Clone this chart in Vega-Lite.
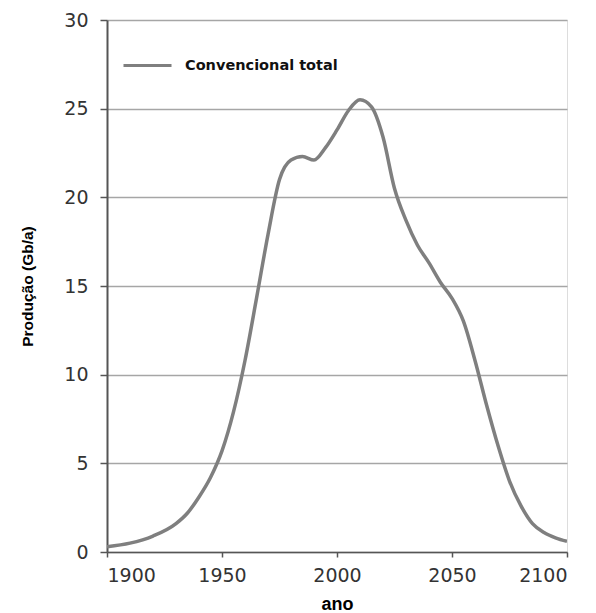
{
  "$schema": "https://vega.github.io/schema/vega-lite/v6.json",
  "autosize": "none",
  "width": 460,
  "height": 532,
  "padding": {"left": 107, "top": 20, "right": 29, "bottom": 61},
  "background": "white",
  "data": {"values": [
    {"ano": 1900, "prod": 0.3, "serie": "Convencional total"},
    {"ano": 1910, "prod": 0.5, "serie": "Convencional total"},
    {"ano": 1920, "prod": 0.9, "serie": "Convencional total"},
    {"ano": 1930, "prod": 1.6, "serie": "Convencional total"},
    {"ano": 1935, "prod": 2.2, "serie": "Convencional total"},
    {"ano": 1940, "prod": 3.1, "serie": "Convencional total"},
    {"ano": 1945, "prod": 4.2, "serie": "Convencional total"},
    {"ano": 1950, "prod": 5.7, "serie": "Convencional total"},
    {"ano": 1955, "prod": 7.9, "serie": "Convencional total"},
    {"ano": 1960, "prod": 10.8, "serie": "Convencional total"},
    {"ano": 1965, "prod": 14.3, "serie": "Convencional total"},
    {"ano": 1970, "prod": 17.9, "serie": "Convencional total"},
    {"ano": 1975, "prod": 21.0, "serie": "Convencional total"},
    {"ano": 1980, "prod": 22.1, "serie": "Convencional total"},
    {"ano": 1985, "prod": 22.3, "serie": "Convencional total"},
    {"ano": 1990, "prod": 22.1, "serie": "Convencional total"},
    {"ano": 1995, "prod": 22.8, "serie": "Convencional total"},
    {"ano": 2000, "prod": 23.8, "serie": "Convencional total"},
    {"ano": 2005, "prod": 24.9, "serie": "Convencional total"},
    {"ano": 2010, "prod": 25.5, "serie": "Convencional total"},
    {"ano": 2015, "prod": 25.1, "serie": "Convencional total"},
    {"ano": 2020, "prod": 23.4, "serie": "Convencional total"},
    {"ano": 2025, "prod": 20.5, "serie": "Convencional total"},
    {"ano": 2030, "prod": 18.7, "serie": "Convencional total"},
    {"ano": 2035, "prod": 17.3, "serie": "Convencional total"},
    {"ano": 2040, "prod": 16.3, "serie": "Convencional total"},
    {"ano": 2045, "prod": 15.2, "serie": "Convencional total"},
    {"ano": 2050, "prod": 14.3, "serie": "Convencional total"},
    {"ano": 2055, "prod": 13.0, "serie": "Convencional total"},
    {"ano": 2060, "prod": 10.8, "serie": "Convencional total"},
    {"ano": 2065, "prod": 8.3, "serie": "Convencional total"},
    {"ano": 2070, "prod": 6.0, "serie": "Convencional total"},
    {"ano": 2075, "prod": 4.0, "serie": "Convencional total"},
    {"ano": 2080, "prod": 2.6, "serie": "Convencional total"},
    {"ano": 2085, "prod": 1.6, "serie": "Convencional total"},
    {"ano": 2090, "prod": 1.1, "serie": "Convencional total"},
    {"ano": 2095, "prod": 0.8, "serie": "Convencional total"},
    {"ano": 2100, "prod": 0.6, "serie": "Convencional total"}
  ]},
  "mark": {"type": "line", "interpolate": "monotone", "strokeWidth": 3.5, "clip": true},
  "encoding": {
    "x": {
      "field": "ano", "type": "quantitative",
      "scale": {"domain": [1900, 2100], "nice": false, "zero": false},
      "axis": {
        "title": "ano", "values": [1900, 1950, 2000, 2050, 2100], "format": "d",
        "grid": false, "domainColor": "#555", "domainWidth": 1.5,
        "tickColor": "#555", "tickWidth": 1.5, "tickSize": 5,
        "labelFont": "DejaVu Sans", "labelFontSize": 19, "labelColor": "#333", "labelPadding": 9,
        "titleFont": "Liberation Sans", "titleFontSize": 18, "titleFontWeight": "bold", "titleColor": "#000", "titlePadding": 10
      }
    },
    "y": {
      "field": "prod", "type": "quantitative",
      "scale": {"domain": [0, 30], "nice": false},
      "axis": {
        "title": "Produção (Gb/a)", "values": [0, 5, 10, 15, 20, 25, 30],
        "grid": true, "gridColor": "#a6a6a6", "gridWidth": 1.5,
        "domainColor": "#555", "domainWidth": 2,
        "tickColor": "#555", "tickWidth": 1.5, "tickSize": 7,
        "labelFont": "DejaVu Sans", "labelFontSize": 19, "labelColor": "#333", "labelPadding": 12,
        "titleFont": "Liberation Sans", "titleFontSize": 15.5, "titleFontWeight": "bold", "titleColor": "#000", "titlePadding": 28
      }
    },
    "color": {
      "field": "serie", "type": "nominal",
      "scale": {"range": ["#7f7f7f"]},
      "legend": {
        "title": null, "orient": "none", "legendX": 15, "legendY": 20, "padding": 0,
        "symbolType": "stroke", "symbolSize": 2304, "symbolStrokeWidth": 3,
        "labelFont": "DejaVu Sans", "labelFontSize": 14.5, "labelFontWeight": "bold", "labelColor": "#111", "labelOffset": 12
      }
    }
  }
}
